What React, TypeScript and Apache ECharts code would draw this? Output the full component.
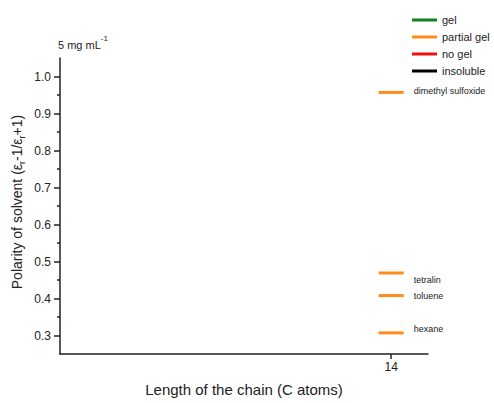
import React, { useEffect, useRef } from "react";
import * as echarts from "echarts";

const solvents = ["dimethyl sulfoxide", "tetralin", "toluene", "hexane"];
const polarity = [0.957, 0.469, 0.408, 0.307];
const chainLength = [14, 14, 14, 14];
const yMajorTicks = [0.3, 0.4, 0.5, 0.6, 0.7, 0.8, 0.9, 1.0];
const yMinorTicks = [0.35, 0.45, 0.55, 0.65, 0.75, 0.85, 0.95];
const xTicks = [14];
const legendNames = ["gel", "partial gel", "no gel", "insoluble"];
const legendColors = ["#12801c", "#ff8c1a", "#f01010", "#000000"];
// label vertical nudges (style only)
const labelNudge = [-1, 7, 0, -4];

export default function App() {
  const ref = useRef<HTMLDivElement>(null);
  useEffect(() => {
    if (!ref.current) return;
    const chart = echarts.init(ref.current, null, { renderer: "svg" });
    const font = "Liberation Sans, Arial, sans-serif";
    const axisColor = "#222";
    const series: any[] = legendNames.map((name, i) => ({
      name,
      type: "scatter",
      symbol: "rect",
      symbolSize: [25, 3],
      itemStyle: { color: legendColors[i], opacity: 1 },
      data: [],
    }));
    series[1].data = solvents.map((s, i) => ({
      value: [chainLength[i], polarity[i]],
      name: s,
      label: { offset: [0, labelNudge[i]] },
    }));
    series[1].label = {
      show: true,
      position: "right",
      distance: 10,
      formatter: (p: any) => p.name,
      fontSize: 9,
      fontFamily: font,
      color: "#222",
    };
    chart.setOption({
      animation: false,
      backgroundColor: "#fff",
      textStyle: { fontFamily: font },
      grid: { left: 60, top: 58, right: 66, bottom: 49 },
      legend: {
        data: legendNames.map((n) => ({ name: n, icon: "rect" })),
        orient: "vertical",
        left: 412,
        top: 13,
        padding: 0,
        itemWidth: 25,
        itemHeight: 3,
        itemGap: 3,
        textStyle: { fontSize: 11, color: "#222", fontFamily: font, lineHeight: 14 },
        selectedMode: false,
      },
      xAxis: {
        type: "value",
        min: 5,
        max: 15,
        name: "Length of the chain (C atoms)",
        nameLocation: "middle",
        nameGap: 28,
        nameTextStyle: { fontSize: 15, color: "#222", fontFamily: font },
        axisLine: { lineStyle: { color: axisColor, width: 1.5 } },
        axisTick: { customValues: xTicks, length: 5, lineStyle: { color: axisColor, width: 1.5 } },
        axisLabel: { customValues: xTicks, fontSize: 12, color: "#222", margin: 7, fontFamily: font },
        splitLine: { show: false },
      },
      yAxis: [
        {
          type: "value",
          min: 0.25,
          max: 1.05,
          axisLine: { show: true, lineStyle: { color: axisColor, width: 1.5 } },
          axisTick: { customValues: yMajorTicks, length: 6, lineStyle: { color: axisColor, width: 1.5 } },
          axisLabel: {
            customValues: yMajorTicks,
            formatter: (v: number) => v.toFixed(1),
            fontSize: 12,
            color: "#222",
            margin: 9,
            fontFamily: font,
          },
          splitLine: { show: false },
        },
        {
          type: "value",
          min: 0.25,
          max: 1.05,
          position: "left",
          axisLine: { show: false },
          axisTick: { show: true, customValues: yMinorTicks, length: 3, lineStyle: { color: axisColor, width: 1.5 } },
          axisLabel: { show: false },
          splitLine: { show: false },
        },
      ],
      graphic: [
        {
          type: "text",
          left: 58,
          top: 34,
          style: {
            text: "{n|5 mg mL}{s|-1}",
            rich: {
              n: { fontSize: 11, fontFamily: font, fill: "#222", verticalAlign: "bottom", lineHeight: 16 },
              s: { fontSize: 8, fontFamily: font, fill: "#222", verticalAlign: "top", lineHeight: 16 },
            },
          },
        },
        {
          type: "text",
          x: 17,
          y: 202,
          rotation: Math.PI / 2,
          style: {
            text: "{n|Polarity of solvent (ε}{s|r}{n|-1/ε}{s|r}{n|+1)}",
            align: "center",
            verticalAlign: "middle",
            rich: {
              n: { fontSize: 14, fontFamily: font, fill: "#222", lineHeight: 18 },
              s: { fontSize: 9, fontFamily: font, fill: "#222", verticalAlign: "bottom", lineHeight: 18 },
            },
          },
        },
      ],
      series,
    });
    return () => chart.dispose();
  }, []);
  return <div ref={ref} style={{ width: 494, height: 403, position: "absolute", left: 0, top: 0 }} />;
}
